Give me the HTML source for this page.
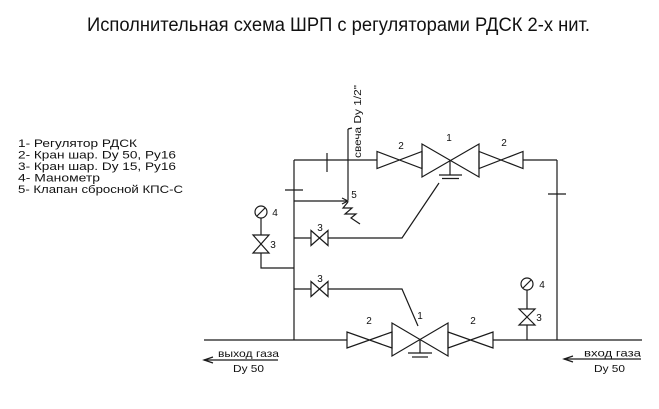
<!DOCTYPE html>
<html><head><meta charset="utf-8"><style>
html,body{margin:0;padding:0;background:#fff;}
svg{display:block;}
text{font-family:"Liberation Sans","DejaVu Sans",sans-serif;fill:#111;}
</style></head><body>
<svg width="659" height="409" viewBox="0 0 659 409" xmlns="http://www.w3.org/2000/svg">
<rect width="659" height="409" fill="#fff"/>
<!-- Title -->
<text x="87" y="31" font-size="19" textLength="503" lengthAdjust="spacingAndGlyphs">Исполнительная схема ШРП с регуляторами РДСК 2-х нит.</text>
<!-- Legend -->
<g font-size="11">
<text x="18" y="147" textLength="119" lengthAdjust="spacingAndGlyphs">1- Регулятор РДСК</text>
<text x="18" y="158.5" textLength="158" lengthAdjust="spacingAndGlyphs">2- Кран шар. Dy 50, Py16</text>
<text x="18" y="170" textLength="158" lengthAdjust="spacingAndGlyphs">3- Кран шар. Dy 15, Py16</text>
<text x="18" y="181.5" textLength="82" lengthAdjust="spacingAndGlyphs">4- Манометр</text>
<text x="18" y="193" textLength="165" lengthAdjust="spacingAndGlyphs">5- Клапан сбросной КПС-С</text>
</g>
<g stroke="#1a1a1a" stroke-width="1.2" fill="none">
<!-- bottom main pipe -->
<line x1="204" y1="340" x2="347" y2="340"/>
<line x1="493" y1="340" x2="642" y2="340"/>
<!-- left riser -->
<line x1="294" y1="160" x2="294" y2="340"/>
<!-- top pipe -->
<line x1="294" y1="160" x2="377" y2="160"/>
<line x1="523" y1="160" x2="557" y2="160"/>
<line x1="557" y1="160" x2="557" y2="340"/>
<!-- ticks -->
<line x1="327" y1="153" x2="327" y2="172"/>
<line x1="285" y1="190" x2="303" y2="190"/>
<line x1="548" y1="194" x2="566" y2="194"/>
<!-- vent line -->
<line x1="348" y1="129" x2="348" y2="200"/>
<line x1="348" y1="129" x2="352" y2="128"/>
<!-- line to relief valve -->
<line x1="294" y1="201" x2="347" y2="201"/>
<polyline points="342,198 348,201 342,204"/>
<!-- relief valve zigzag -->
<polyline points="348,202 343,208 352,208 345,214 356,214 351,218 360,224"/>
<!-- top valve 2 left -->
<polygon points="377,151.5 377,168.5 422,151.5 422,168.5"/>
<!-- top regulator -->
<polygon points="422,144 422,177 479,144 479,177"/>
<line x1="450" y1="160" x2="450" y2="175"/>
<line x1="439" y1="175" x2="462" y2="175"/>
<line x1="442" y1="178.5" x2="459" y2="178.5"/>
<!-- top valve 2 right -->
<polygon points="479,151.5 479,168.5 523,151.5 523,168.5"/>
<!-- bottom valve 2 left -->
<polygon points="347,332 347,348 392,332 392,348"/>
<!-- bottom regulator -->
<polygon points="392,323 392,356 448,323 448,356"/>
<line x1="420" y1="340" x2="420" y2="353"/>
<line x1="408" y1="353" x2="432" y2="353"/>
<line x1="412" y1="357" x2="428" y2="357"/>
<!-- bottom valve 2 right -->
<polygon points="448,332 448,348 493,332 493,348"/>
<!-- upper impulse line -->
<line x1="294" y1="238" x2="311" y2="238"/>
<polygon points="311,230.5 311,245.5 328,230.5 328,245.5"/>
<polyline points="328,238 402,238 439,183"/>
<!-- lower impulse line -->
<line x1="294" y1="289" x2="311" y2="289"/>
<polygon points="311,281.5 311,296.5 328,281.5 328,296.5"/>
<polyline points="328,289 402,289 418,326"/>
<!-- left manometer -->
<polyline points="294,268 261,268 261,253"/>
<polygon points="253,235 269,235 253,253 269,253"/>
<line x1="261" y1="235" x2="261" y2="218"/>
<circle cx="261" cy="212" r="6"/>
<line x1="257" y1="216" x2="265" y2="208"/>
<!-- right manometer -->
<line x1="527" y1="340" x2="527" y2="325"/>
<polygon points="519,309 535,309 519,325 535,325"/>
<line x1="527" y1="309" x2="527" y2="290"/>
<circle cx="527" cy="284" r="6"/>
<line x1="523" y1="288" x2="531" y2="280"/>
<!-- flow arrows -->
<line x1="204" y1="360" x2="278" y2="360"/>
<polyline points="213,357 204,360 213,363"/>
<line x1="564" y1="359" x2="641" y2="359"/>
<polyline points="573,356 564,359 573,362"/>
</g>
<!-- labels -->
<g font-size="10" text-anchor="middle">
<text x="401" y="149">2</text>
<text x="449" y="141">1</text>
<text x="504" y="146">2</text>
<text x="369" y="324">2</text>
<text x="420" y="319">1</text>
<text x="473" y="324">2</text>
<text x="320" y="231">3</text>
<text x="320" y="282">3</text>
<text x="275" y="216">4</text>
<text x="273" y="248">3</text>
<text x="542" y="288">4</text>
<text x="539" y="321">3</text>
<text x="354" y="198">5</text>
</g>
<!-- vent label -->
<text transform="translate(361,158) rotate(-90)" font-size="10.5" textLength="73" lengthAdjust="spacingAndGlyphs">свеча Dy 1/2"</text>
<!-- bottom texts -->
<g font-size="10.5">
<text x="218" y="357" textLength="61" lengthAdjust="spacingAndGlyphs">выход газа</text>
<text x="233" y="372" textLength="31" lengthAdjust="spacingAndGlyphs">Dy 50</text>
<text x="584" y="356.5" textLength="57" lengthAdjust="spacingAndGlyphs">вход газа</text>
<text x="594" y="372" textLength="31" lengthAdjust="spacingAndGlyphs">Dy 50</text>
</g>
</svg>
</body></html>
